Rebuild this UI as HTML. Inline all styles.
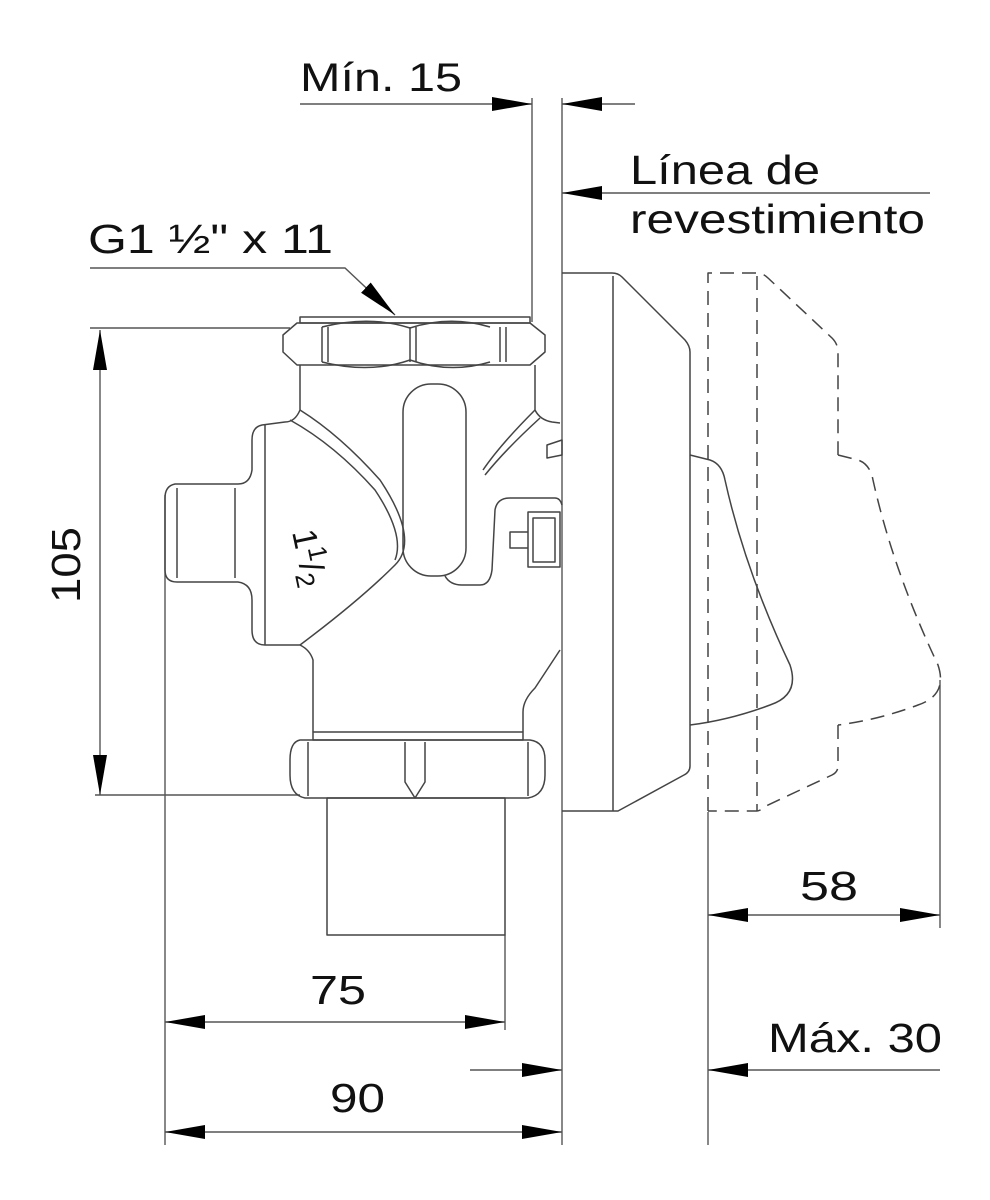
<!DOCTYPE html>
<html><head><meta charset="utf-8"><style>
html,body{margin:0;padding:0;background:#fff;}
svg{display:block;}
text{font-family:"Liberation Sans",Arial,sans-serif;fill:#111;}
</style></head><body>
<svg width="990" height="1200" viewBox="0 0 990 1200" xmlns="http://www.w3.org/2000/svg">
<defs>
<marker id="a" viewBox="0 0 40 14" refX="40" refY="7" markerWidth="40" markerHeight="14" markerUnits="userSpaceOnUse" orient="auto"><path d="M0,0 L40,7 L0,14 Z" fill="#000"/></marker>
</defs>
<g fill="none" stroke="#555" stroke-width="1.4">
<line x1="562" y1="98" x2="562" y2="1145"/>
<line x1="532" y1="98" x2="532" y2="322"/>
<line x1="165" y1="495" x2="165" y2="1145"/>
<line x1="505" y1="935" x2="505" y2="1030"/>
<line x1="708" y1="812" x2="708" y2="1145"/>
<line x1="940" y1="680" x2="940" y2="928"/>
<line x1="90" y1="328" x2="290" y2="328"/>
<line x1="95" y1="795" x2="300" y2="795"/>
<line x1="300" y1="104" x2="532" y2="104" marker-end="url(#a)"/>
<line x1="635" y1="104" x2="562" y2="104" marker-end="url(#a)"/>
<line x1="930" y1="193" x2="562" y2="193" marker-end="url(#a)"/>
<polyline points="90,268 345,268 395,315" marker-end="url(#a)"/>
<line x1="100" y1="560" x2="100" y2="330" marker-end="url(#a)"/>
<line x1="100" y1="560" x2="100" y2="795" marker-end="url(#a)"/>
<line x1="335" y1="1022" x2="165" y2="1022" marker-end="url(#a)"/>
<line x1="335" y1="1022" x2="505" y2="1022" marker-end="url(#a)"/>
<line x1="360" y1="1132" x2="165" y2="1132" marker-end="url(#a)"/>
<line x1="360" y1="1132" x2="562" y2="1132" marker-end="url(#a)"/>
<line x1="470" y1="1070" x2="562" y2="1070" marker-end="url(#a)"/>
<line x1="940" y1="1070" x2="708" y2="1070" marker-end="url(#a)"/>
<line x1="825" y1="915" x2="708" y2="915" marker-end="url(#a)"/>
<line x1="825" y1="915" x2="940" y2="915" marker-end="url(#a)"/>
</g>
<g fill="none" stroke="#444" stroke-width="1.5" stroke-linejoin="round">
<path d="M562,273 L612,273 Q618,273 622,277 L685,340 Q690,346 690,352 L690,766 Q690,772 684,775 L618,811 L562,811"/>
<line x1="613" y1="276" x2="613" y2="811"/>
<path d="M690,455 L710,460 Q722,464 725,480 Q745,570 790,665 Q800,695 770,705 Q730,720 690,725"/>
<g stroke-dasharray="14,8">
<path d="M708,811 L708,273 L757,273 Q763,273 768,278 L832,338 Q838,344 838,352 L838,455"/>
<line x1="757" y1="276" x2="757" y2="811"/>
<path d="M838,725 L838,766 Q838,772 832,775 L766,806 Q760,811 757,811 L708,811"/>
<path d="M838,455 L858,460 Q870,464 873,480 Q893,570 938,665 Q948,695 918,705 Q878,720 838,725"/>
</g>
<rect x="300" y="317" width="230" height="6"/>
<path d="M297,323 L530,323 L545,335 L545,352 L530,365 L297,365 L283,352 L283,335 Z"/>
<path d="M322,327 Q370,315 410,328 Q450,315 490,327 M322,362 Q370,374 410,360 Q450,374 490,362"/>
<line x1="322" y1="327" x2="322" y2="362"/><line x1="328" y1="327" x2="328" y2="362"/>
<line x1="410" y1="327" x2="410" y2="362"/><line x1="416" y1="327" x2="416" y2="362"/>
<line x1="500" y1="327" x2="500" y2="362"/><line x1="506" y1="327" x2="506" y2="362"/>
<path d="M300,365 L300,410 Q295,422 285,422 L262,425 Q252,427 252,440 L252,470 Q250,484 238,484 L175,484 Q165,486 165,498 L165,570 Q165,582 177,582 L238,582 Q252,584 252,600 L252,630 Q252,645 265,645 L300,645 Q310,650 313,660 L313,732"/>
<path d="M535,365 L535,410 Q540,420 552,422 L560,423"/>
<path d="M560,650 L535,688 Q523,700 523,712 L523,732"/>
<path d="M300,410 Q340,435 380,480 Q420,540 395,565 Q360,600 300,645"/>
<path d="M290,420 Q335,445 375,490 Q405,535 395,560"/>
<path d="M535,410 Q500,445 483,470"/>
<path d="M540,418 Q505,450 485,475"/>
<line x1="265" y1="425" x2="265" y2="645"/>
<line x1="235" y1="488" x2="235" y2="578"/>
<line x1="177" y1="488" x2="177" y2="578"/>
<rect x="403" y="384" width="63" height="192" rx="28"/>
<path d="M445,576 Q450,585 462,585 L480,585 Q490,585 492,570 L495,510 Q497,498 510,498 L555,498 Q560,498 562,505"/>
<rect x="528" y="512" width="32" height="55"/>
<rect x="533" y="518" width="22" height="44"/>
<path d="M528,532 L510,532 L510,548 L528,548"/>
<path d="M547,445 L562,440 L562,455 L547,458 Z"/>
<rect x="313" y="732" width="210" height="8"/>
<path d="M300,740 L530,740 Q545,742 545,760 L545,775 Q545,795 528,798 L305,798 Q290,795 290,775 L290,760 Q290,742 300,740 Z"/>
<line x1="308" y1="742" x2="308" y2="796"/><line x1="528" y1="742" x2="528" y2="796"/>
<path d="M405,742 L405,782 L415,798 L425,782 L425,742"/>
<rect x="327" y="798" width="178" height="137"/>
</g>
<text x="300" y="91" font-size="40" textLength="162" lengthAdjust="spacingAndGlyphs">Mín. 15</text>
<text x="630" y="184" font-size="41" textLength="190" lengthAdjust="spacingAndGlyphs">Línea de</text>
<text x="630" y="233" font-size="41" textLength="295" lengthAdjust="spacingAndGlyphs">revestimiento</text>
<text x="88" y="253" font-size="41" textLength="245" lengthAdjust="spacingAndGlyphs">G1 ½" x 11</text>
<text transform="translate(80,565) rotate(-90)" text-anchor="middle" font-size="41" textLength="76" lengthAdjust="spacingAndGlyphs">105</text>
<text x="310" y="1004" font-size="41" textLength="56" lengthAdjust="spacingAndGlyphs">75</text>
<text x="330" y="1112" font-size="41" textLength="55" lengthAdjust="spacingAndGlyphs">90</text>
<text x="768" y="1052" font-size="41" textLength="174" lengthAdjust="spacingAndGlyphs">Máx. 30</text>
<text x="800" y="900" font-size="41" textLength="58" lengthAdjust="spacingAndGlyphs">58</text>
<text transform="translate(292,532) rotate(78)" font-size="34">1<tspan font-size="26" dy="-12">1</tspan><tspan dy="12">/</tspan><tspan font-size="26" dy="6">2</tspan></text>
</svg>
</body></html>
